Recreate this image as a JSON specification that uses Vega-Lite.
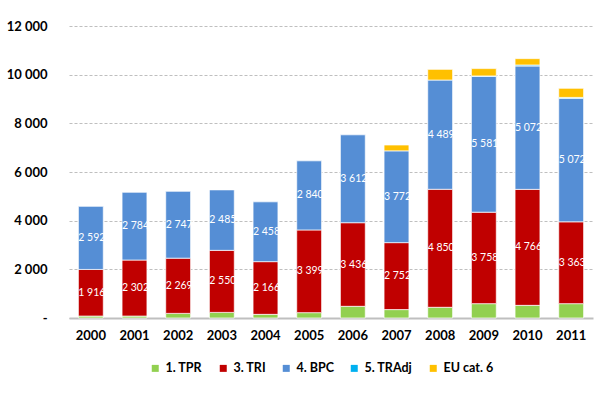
{
  "$schema": "https://vega.github.io/schema/vega-lite/v6.json",
  "width": 524,
  "height": 292,
  "autosize": "none",
  "padding": {"left": 69, "top": 26, "right": 13, "bottom": 87},
  "background": "white",
  "data": {
    "values": [
      {"year": "2000", "series": "1. TPR", "value": 80}, {"year": "2000", "series": "3. TRI", "value": 1916}, {"year": "2000", "series": "4. BPC", "value": 2592},
      {"year": "2001", "series": "1. TPR", "value": 80}, {"year": "2001", "series": "3. TRI", "value": 2302}, {"year": "2001", "series": "4. BPC", "value": 2784},
      {"year": "2002", "series": "1. TPR", "value": 190}, {"year": "2002", "series": "3. TRI", "value": 2269}, {"year": "2002", "series": "4. BPC", "value": 2747},
      {"year": "2003", "series": "1. TPR", "value": 230}, {"year": "2003", "series": "3. TRI", "value": 2550}, {"year": "2003", "series": "4. BPC", "value": 2485},
      {"year": "2004", "series": "1. TPR", "value": 150}, {"year": "2004", "series": "3. TRI", "value": 2166}, {"year": "2004", "series": "4. BPC", "value": 2458},
      {"year": "2005", "series": "1. TPR", "value": 220}, {"year": "2005", "series": "3. TRI", "value": 3399}, {"year": "2005", "series": "4. BPC", "value": 2840},
      {"year": "2006", "series": "1. TPR", "value": 480}, {"year": "2006", "series": "3. TRI", "value": 3436}, {"year": "2006", "series": "4. BPC", "value": 3612},
      {"year": "2007", "series": "1. TPR", "value": 345}, {"year": "2007", "series": "3. TRI", "value": 2752}, {"year": "2007", "series": "4. BPC", "value": 3772}, {"year": "2007", "series": "EU cat. 6", "value": 240},
      {"year": "2008", "series": "1. TPR", "value": 440}, {"year": "2008", "series": "3. TRI", "value": 4850}, {"year": "2008", "series": "4. BPC", "value": 4489}, {"year": "2008", "series": "EU cat. 6", "value": 440},
      {"year": "2009", "series": "1. TPR", "value": 590}, {"year": "2009", "series": "3. TRI", "value": 3758}, {"year": "2009", "series": "4. BPC", "value": 5581}, {"year": "2009", "series": "5. TRAdj", "value": 20}, {"year": "2009", "series": "EU cat. 6", "value": 300},
      {"year": "2010", "series": "1. TPR", "value": 520}, {"year": "2010", "series": "3. TRI", "value": 4766}, {"year": "2010", "series": "4. BPC", "value": 5072}, {"year": "2010", "series": "5. TRAdj", "value": 40}, {"year": "2010", "series": "EU cat. 6", "value": 260},
      {"year": "2011", "series": "1. TPR", "value": 590}, {"year": "2011", "series": "3. TRI", "value": 3363}, {"year": "2011", "series": "4. BPC", "value": 5072}, {"year": "2011", "series": "5. TRAdj", "value": 40}, {"year": "2011", "series": "EU cat. 6", "value": 375}
    ]
  },
  "encoding": {
    "x": {
      "field": "year", "type": "nominal",
      "scale": {"paddingInner": 0.43, "paddingOuter": 0.215},
      "axis": {
        "title": null, "labelAngle": 0, "ticks": false, "labelPadding": 11,
        "labelFont": "Lato", "labelFontWeight": "bold", "labelFontSize": 13, "labelColor": "#000000",
        "domainColor": "#BFBFBF", "domainWidth": 2
      }
    },
    "y": {
      "field": "value", "type": "quantitative", "stack": "zero",
      "scale": {"domain": [0, 12000]},
      "axis": {
        "title": null, "values": [0, 2000, 4000, 6000, 8000, 10000, 12000],
        "domain": false, "ticks": false, "labelPadding": 22,
        "labelFont": "Lato", "labelFontWeight": "bold", "labelFontSize": 13, "labelColor": "#000000",
        "labelExpr": "datum.value == 0 ? '-\u00a0\u00a0\u00a0' : replace(format(datum.value, ','), ',', ' ')",
        "gridColor": "#BFBFBF", "gridDash": [3, 2], "gridWidth": 1
      }
    },
    "order": {"field": "series", "sort": "ascending"}
  },
  "layer": [
    {
      "mark": {"type": "bar", "stroke": "white", "strokeWidth": 0.7},
      "encoding": {
        "color": {
          "field": "series", "type": "nominal",
          "scale": {
            "domain": ["1. TPR", "3. TRI", "4. BPC", "5. TRAdj", "EU cat. 6"],
            "range": ["#92D050", "#C00000", "#558ED5", "#00B0F0", "#FFC000"]
          },
          "legend": {
            "title": null, "orient": "none", "direction": "horizontal",
            "legendX": 80, "legendY": 336,
            "symbolType": "square", "symbolSize": 49, "symbolStrokeWidth": 0,
            "labelFont": "Lato", "labelFontWeight": "bold", "labelFontSize": 12.5, "labelColor": "#000000",
            "columnPadding": 14, "labelOffset": 4
          }
        }
      }
    },
    {
      "mark": {"type": "text", "color": "white", "font": "Lato", "fontSize": 10.5, "baseline": "middle", "align": "center", "dx": 1},
      "encoding": {
        "y": {"field": "value", "type": "quantitative", "stack": "zero", "bandPosition": 0.5},
        "text": {
          "condition": {"test": "datum.series == '3. TRI' || datum.series == '4. BPC'", "field": "value", "type": "quantitative", "format": ",d"},
          "value": ""
        }
      }
    }
  ],
  "config": {
    "locale": {"number": {"decimal": ",", "thousands": " ", "grouping": [3], "currency": ["", ""]}},
    "view": {"stroke": null}
  }
}
